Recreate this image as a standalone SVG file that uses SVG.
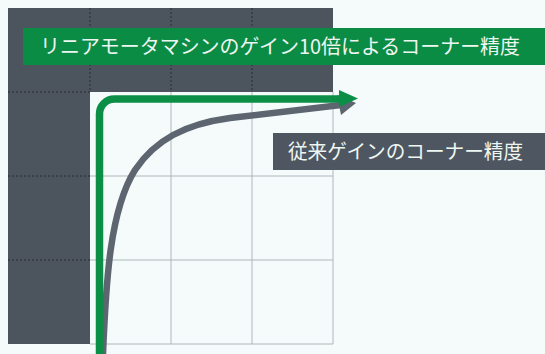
<svg xmlns="http://www.w3.org/2000/svg" width="545" height="354" viewBox="0 0 545 354">
<style>
.grid-d{stroke:#1e2228;stroke-width:0.8;stroke-dasharray:2 2;fill:none}
.grid-l{stroke:#a9b0b4;stroke-width:0.9;fill:none}
.lbl{font-family:"Noto Sans CJK JP","Noto Sans",sans-serif;font-size:20px;fill:#eef6f2}
</style>
<rect width="545" height="354" fill="#f5fbfb"/>
<g id="field">
<path d="M8,8 H333 V92 H90 V344 H8 Z" fill="#4c545e"/>
<path class="grid-d" d="M90,8 V92 M171,8 V92 M252,8 V92 M8,92 H90 M8,176 H90 M8,260 H90"/>
<path class="grid-l" d="M171,92 V344 M252,92 V344 M333,92 V344 M90,176 H333 M90,260 H333 M90,344 H333"/>
</g>
<g id="connectors">
<path d="M103,354 C106,280 110,210 135,170 C155,140 185,124 230,118 L341,105" fill="none" stroke="#5d6570" stroke-width="6.5"/>
<polygon points="337,95 356,103 341,115" fill="#5d6570"/>
<path d="M99.5,354 V114 A15,15 0 0 1 114.5,99 H342" fill="none" stroke="#0b8e46" stroke-width="7.5"/>
<polygon points="339,90 358,98.5 339,107" fill="#0b8e46"/>
</g>
<g id="title">
<rect x="23" y="28" width="522" height="37" fill="#0b8c45"/>
<text class="lbl" x="40" y="54" textLength="480" lengthAdjust="spacingAndGlyphs">リニアモータマシンのゲイン10倍によるコーナー精度</text>
</g>
<g id="label">
<rect x="273" y="133" width="272" height="37" fill="#4e5661"/>
<text class="lbl" x="288" y="159" textLength="235" lengthAdjust="spacingAndGlyphs">従来ゲインのコーナー精度</text>
</g>
</svg>
